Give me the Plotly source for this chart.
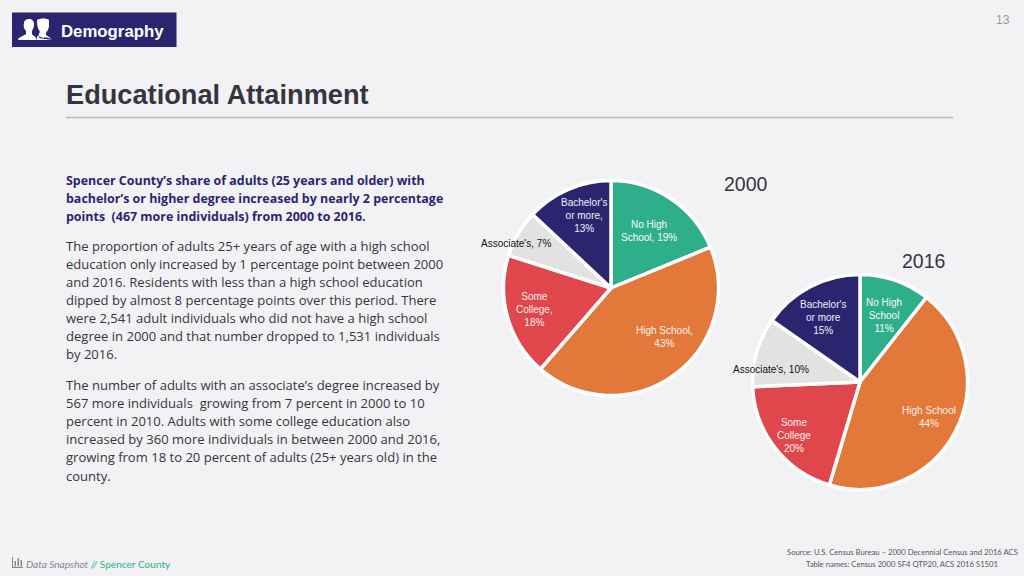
import plotly.graph_objects as go

categories = ["No High School", "High School", "Some College", "Associate's", "Bachelor's or more"]
values_2000 = [18.8, 42.6, 18.5, 7.1, 13.0]
values_2016 = [10.6, 44.0, 19.7, 10.4, 15.3]
colors = ["#2FAE8C", "#E2793A", "#E0474C", "#E2E2E2", "#2B2570"]
labels_2000 = ["No High<br>School, 19%", "High School,<br>43%", "Some<br>College,<br>18%", "Associate's, 7%", "Bachelor's<br>or more,<br>13%"]
labels_2016 = ["No High<br>School<br>11%", "High School<br>44%", "Some<br>College<br>20%", "Associate's, 10%", "Bachelor's<br>or more<br>15%"]
label_xy_2000 = [(649, 231), (664, 337), (534, 309), (516, 243), (584, 215)]
label_xy_2016 = [(884, 315), (929, 417), (794, 435), (771, 369), (823, 317)]
label_colors = ["#F6FBF9", "#FCF1EA", "#FCEEEE", "#111111", "#EEEEF8"]

bold_lines = ["Spencer County’s share of adults (25 years and older) with",
              "bachelor’s or higher degree increased by nearly 2 percentage",
              "points  (467 more individuals) from 2000 to 2016."]
para2 = ["The proportion of adults 25+ years of age with a high school",
         "education only increased by 1 percentage point between 2000",
         "and 2016. Residents with less than a high school education",
         "dipped by almost 8 percentage points over this period. There",
         "were 2,541 adult individuals who did not have a high school",
         "degree in 2000 and that number dropped to 1,531 individuals",
         "by 2016."]
para3 = ["The number of adults with an associate’s degree increased by",
         "567 more individuals  growing from 7 percent in 2000 to 10",
         "percent in 2010. Adults with some college education also",
         "increased by 360 more individuals in between 2000 and 2016,",
         "growing from 18 to 20 percent of adults (25+ years old) in the",
         "county."]

W, H = 1024, 576
BG = "#F2F2F5"
DARK = "#35353F"
BODY = "Open Sans"
PIEFONT = "Liberation Sans"


def dom(cx, cy, r):
    return dict(x=[(cx - r) / W, (cx + r) / W], y=[1 - (cy + r) / H, 1 - (cy - r) / H])


fig = go.Figure()
for vals, name, d in [(values_2000, "2000", dom(611, 288, 107.5)), (values_2016, "2016", dom(860, 382, 107.5))]:
    fig.add_trace(go.Pie(labels=categories, values=vals, name=name, sort=False, direction="clockwise",
                         rotation=0, textinfo="none", hoverinfo="label+percent", showlegend=False,
                         marker=dict(colors=colors, line=dict(color="#FFFFFF", width=3.5)), domain=d))

ann = []


def txt(x, y, s, size, color=DARK, font=BODY, anchor="left"):
    ann.append(dict(x=x, y=y, xref="x", yref="y", text=s, showarrow=False, xanchor=anchor, yanchor="middle",
                    align="center" if anchor == "center" else anchor, font=dict(size=size, color=color, family=font)))


for i, s in enumerate(bold_lines):
    txt(64, 180 + i * 18, f"<b>{s}</b>", 12.45, "#2B2570")
for i, s in enumerate(para2):
    txt(64, 246 + i * 18, s, 13.05, DARK)
for i, s in enumerate(para3):
    txt(64, 385 + i * 18.1, s, 13.05, DARK)
for labs, xy in [(labels_2000, label_xy_2000), (labels_2016, label_xy_2016)]:
    for s, (x, y), c in zip(labs, xy, label_colors):
        txt(x, y, s, 10, c, PIEFONT, "center")

txt(59, 31, "<b>Demography</b>", 16.8, "#FFFFFF", "Liberation Sans")
txt(64, 94, "<b>Educational Attainment</b>", 27.2, DARK, "Liberation Sans")
txt(746, 184, "2000", 19.5, DARK, PIEFONT, "center")
txt(923.5, 261, "2016", 19.5, DARK, PIEFONT, "center")
txt(1003, 20, "13", 12, "#9A9AA2", PIEFONT, "center")
txt(24, 564, '<i>Data Snapshot</i> <span style="color:#2FAE8C"><i>//</i> Spencer County</span>', 10.1, "#85858D", "Lato")
txt(902, 551.5, "Source: U.S. Census Bureau – 2000 Decennial Census and 2016 ACS", 7.7, "#55555D", "Lato", "center")
txt(901.5, 564, "Table names: Census 2000 SF4 QTP20, ACS 2016 S1501", 7.7, "#55555D", "Lato", "center")

NAVY = "#2B2570"
shapes = [
    dict(type="rect", x0=12, y0=12.5, x1=176.5, y1=47, fillcolor=NAVY, line_width=0, layer="below"),
    dict(type="line", x0=66, y0=117.5, x1=953, y1=117.5, line=dict(color="#B9B9BE", width=1.5)),
    # people icon
    dict(type="path", path="M18,40 C18,37 24,36 26,34 L26,31 C24,29 23,26 24,23 C24,20 27,19 29,19 C32,19 34,21 34,24 C34,27 33,29 32,31 L32,34 C33,36 36,36 37,40 Z",
         fillcolor="#FFFFFF", line_width=0),
    dict(type="path", path="M37,36 L44,38 C42,37 52,38 52,40 L37,40 Z M37,20 C40,18 47,18 49,20 L49,26 C49,29 47,31 46,33 L46,35 C47,36 50,37 52,40 L39,38 C38,35 39,33 40,32 C38,29 37,26 37,20 Z",
         fillcolor="#FFFFFF", line_width=0),
    # footer chart icon
    dict(type="line", x0=12.5, y0=557, x1=12.5, y1=567.5, line=dict(color="#85858D", width=1)),
    dict(type="line", x0=12, y0=567.5, x1=23, y1=567.5, line=dict(color="#85858D", width=1)),
    dict(type="rect", x0=14.5, y0=561, x1=16, y1=566.5, fillcolor="#85858D", line_width=0),
    dict(type="rect", x0=17.5, y0=558, x1=19, y1=566.5, fillcolor="#85858D", line_width=0),
    dict(type="rect", x0=20.5, y0=560, x1=22, y1=566.5, fillcolor="#85858D", line_width=0),
]

fig.update_layout(width=W, height=H, margin=dict(l=0, r=0, t=0, b=0), paper_bgcolor=BG, plot_bgcolor=BG,
                  xaxis=dict(visible=False, range=[0, W], domain=[0, 1], fixedrange=True),
                  yaxis=dict(visible=False, range=[H, 0], domain=[0, 1], fixedrange=True),
                  annotations=ann, shapes=shapes)
fig.write_html("out.html", config={"displayModeBar": False},
               post_script="document.body.style.margin='0';document.body.style.background='%s';" % BG)
